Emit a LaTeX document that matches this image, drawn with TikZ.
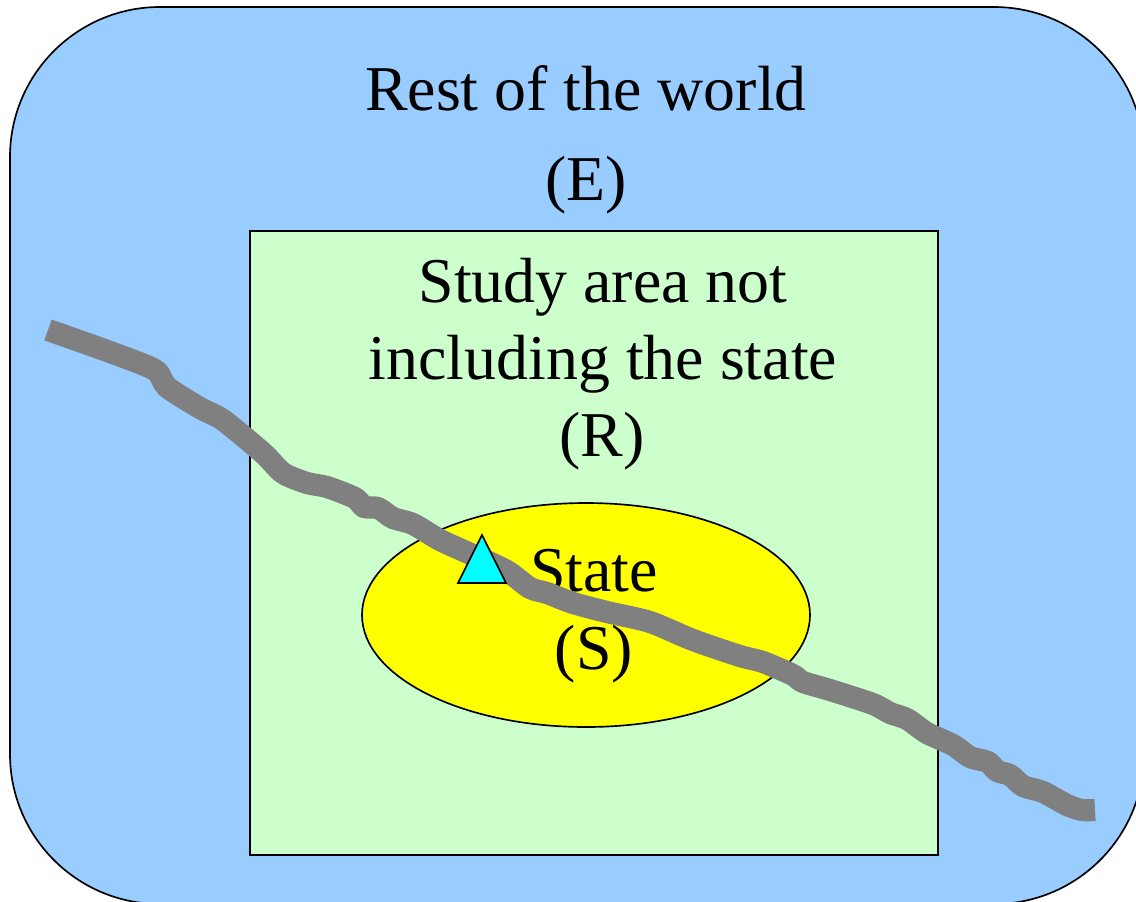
\documentclass[tikz,border=0pt]{standalone}
\usepackage{fontspec}
\setmainfont{Liberation Serif}
\definecolor{skyfill}{RGB}{153,204,255}
\definecolor{mintfill}{RGB}{204,255,204}
\definecolor{sunfill}{RGB}{255,255,0}
\definecolor{aquafill}{RGB}{0,255,255}
\definecolor{rivergray}{RGB}{128,128,128}
\tikzset{
  label text/.style={font=\fontsize{47.9}{50}\selectfont, text=black, anchor=base, inner sep=0pt},
  outline/.style={draw=black, line width=1.25pt},
  river/.style={draw=rivergray, line width=16.6pt, line cap=butt, line join=round}
}
\begin{document}
\begin{tikzpicture}[x=0.75pt,y=-0.75pt]
\useasboundingbox (0,0) rectangle (1136,901);
\clip (0,0) rectangle (1136,901);
\fill[white] (0,0) rectangle (1136,901);
\draw[outline, fill=skyfill, rounded corners=112.5pt] (10,7) rectangle (1144,904);
\draw[outline, fill=mintfill] (250,231) rectangle (938,855);
\draw[outline, fill=sunfill] (586,615) ellipse [x radius=224, y radius=112];
\node[label text] (world) at (586,110) {Rest of the world};
\node[label text] (e) at (586,200) {(E)};
\node[label text] (study) at (603,302) {Study area not};
\node[label text] (incl) at (603,379) {including the state};
\node[label text] (r) at (602,456) {(R)};
\node[label text] (state) at (594,591) {State};
\node[label text] (s) at (594,669) {(S)};
\draw[river] plot[smooth, tension=0.45] coordinates {
(48,330) (110,352) (155,370) (167,387) (200,408) (223,420) (263,453) (283,473) (307,483) (327,487)
(355,498) (364,507) (378,508) (393,518) (413,524) (440,540) (473,555) (507,571) (530,588) (547,593)
(573,603) (607,612) (650,622) (693,640) (740,656) (763,662) (793,675) (803,682) (830,690) (873,704)
(890,713) (907,719) (927,733) (953,745) (970,757) (988,762) (997,771) (1010,775) (1023,786) (1043,792)
(1067,805) (1082,810) (1095,810)};
\draw[outline, fill=aquafill, line join=miter] (482,535) -- (506,583) -- (458,583) -- cycle;
\end{tikzpicture}
\end{document}
